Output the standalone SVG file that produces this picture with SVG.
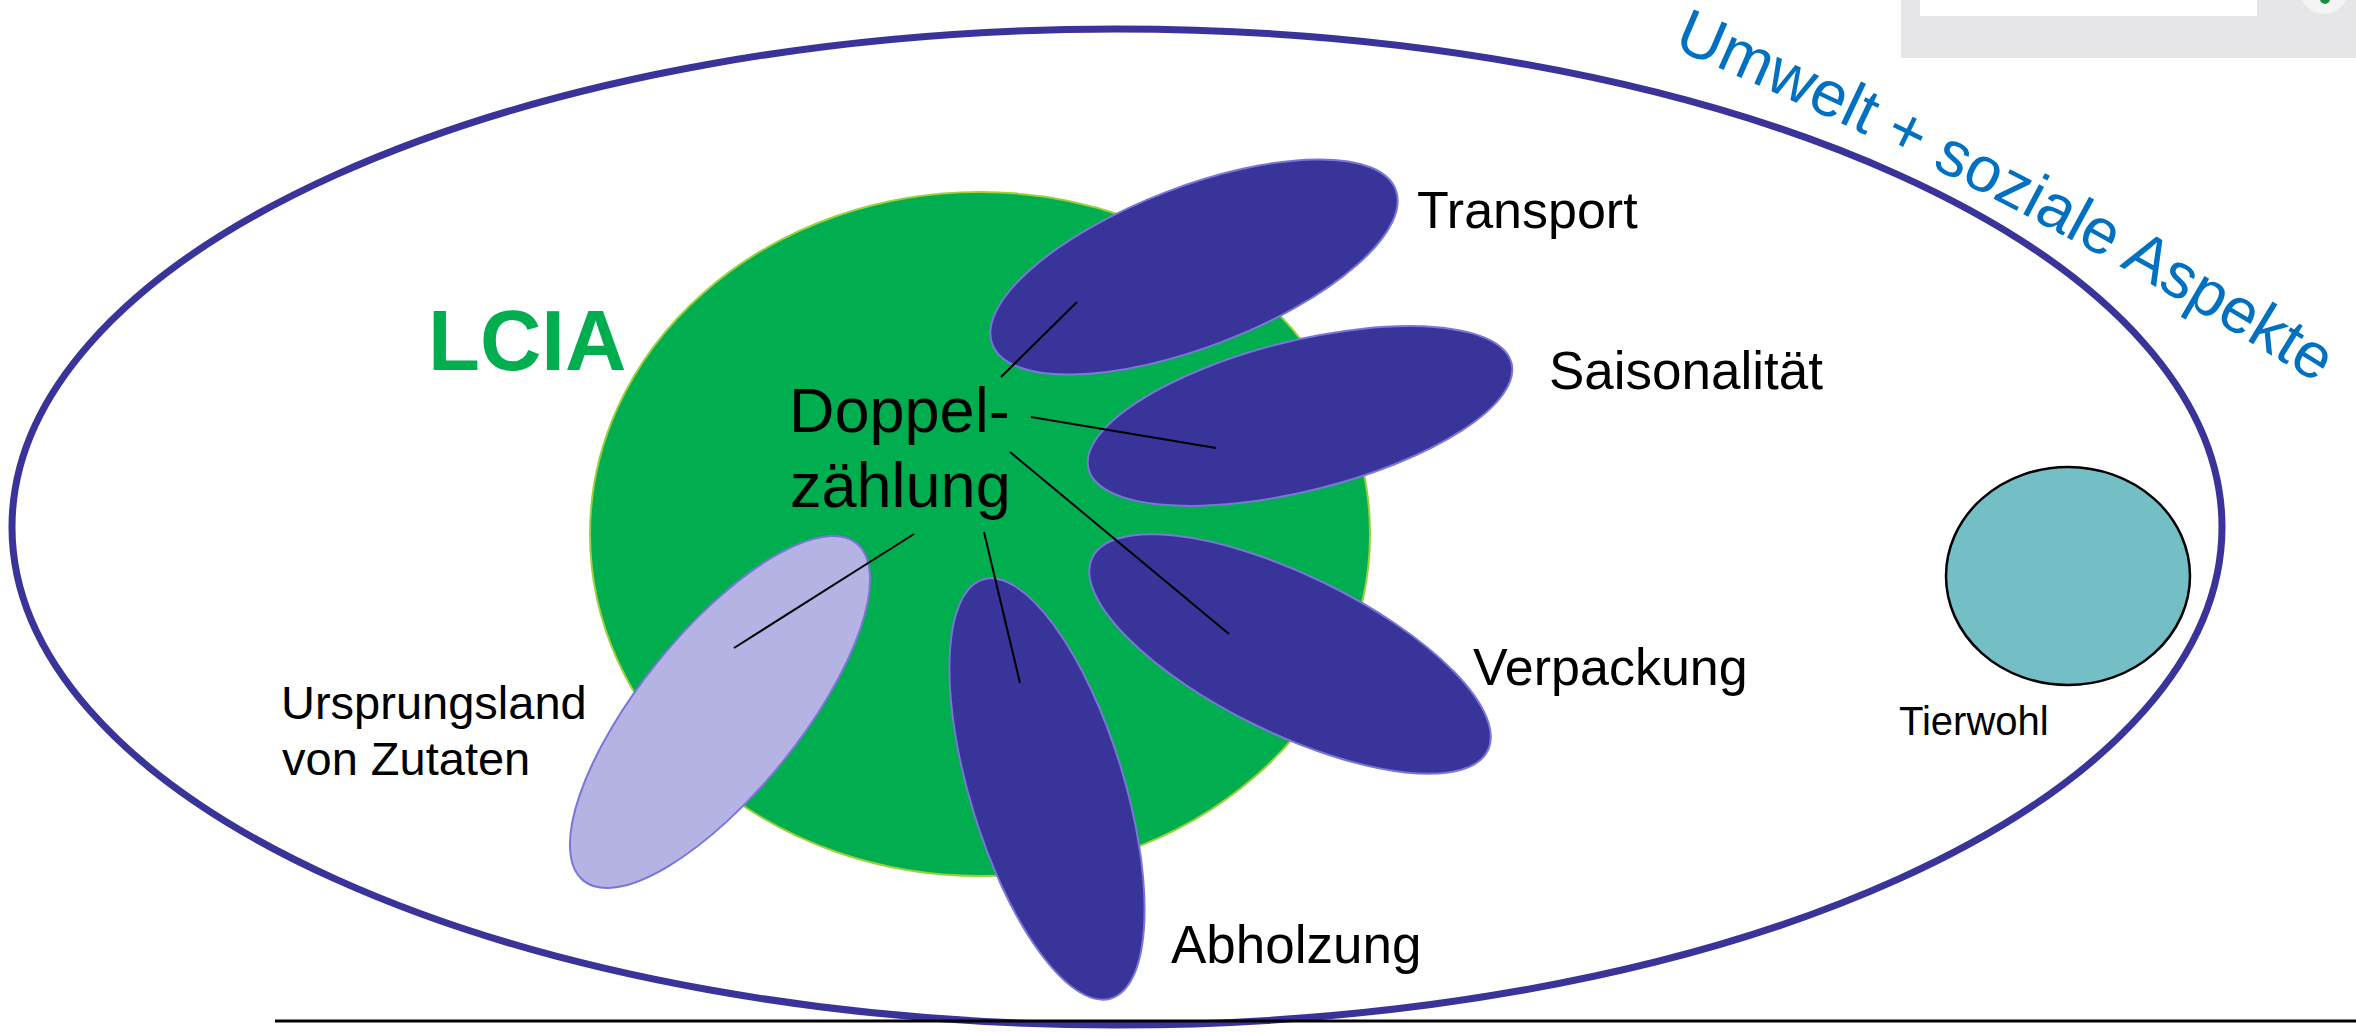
<svg xmlns="http://www.w3.org/2000/svg" width="2356" height="1032" viewBox="0 0 2356 1032">
  <defs>
    <style>
      .lbl { font-family: "Liberation Sans", Arial, sans-serif; fill: #000; }
      .petal { fill: #393499; stroke: #7a76d8; stroke-width: 2; }
      .petal-light { fill: #b5b3e4; stroke: #7a76d8; stroke-width: 2; }
      .conn { stroke: #000; stroke-width: 2; fill: none; }
    </style>
    <path id="arcPath" d="M1672,48 Q2008,190 2308,378"/>
  </defs>
  <rect x="0" y="0" width="2356" height="1032" fill="#ffffff"/>

  <!-- header fragments -->
  <g id="header">
    <rect x="1901" y="-5" width="460" height="63" fill="#e6e6e8"/>
    <rect x="1920" y="-5" width="337" height="21" fill="#ffffff"/>
    <circle cx="2324" cy="-10" r="24" fill="#f4f4f4"/>
    <circle cx="2325" cy="-1" r="5" fill="#1e8c3e"/>
  </g>

  <g id="outer">
    <ellipse cx="1117" cy="527" rx="1105" ry="498" fill="none" stroke="#3a3399" stroke-width="7"/>
  </g>

  <g id="lcia">
    <ellipse cx="980" cy="534" rx="390" ry="342" fill="#00ae4f" stroke="#9ccf3a" stroke-width="2"/>
    <text class="lbl" x="428" y="370" font-size="85" font-weight="bold" style="fill:#00ae4f">LCIA</text>
  </g>

  <g id="transport">
    <ellipse class="petal" cx="1194" cy="267" rx="216" ry="80" transform="rotate(-21 1194 267)"/>
  </g>
  <g id="saisonalitaet">
    <ellipse class="petal" cx="1300" cy="416" rx="218" ry="75" transform="rotate(-14 1300 416)"/>
  </g>
  <g id="verpackung">
    <ellipse class="petal" cx="1290" cy="654" rx="220" ry="79" transform="rotate(26 1290 654)"/>
  </g>
  <g id="abholzung">
    <ellipse class="petal" cx="1047" cy="789" rx="77" ry="219" transform="rotate(-17 1047 789)"/>
  </g>
  <g id="ursprungsland">
    <ellipse class="petal-light" cx="720" cy="712" rx="80" ry="217" transform="rotate(39 720 712)"/>
  </g>

  <g id="tierwohl">
    <ellipse cx="2068" cy="576" rx="122" ry="109" fill="#73bfc5" stroke="#000" stroke-width="2.5"/>
    <text class="lbl" x="1899" y="735" font-size="40">Tierwohl</text>
  </g>

  <g id="connectors">
    <line class="conn" x1="1001" y1="377" x2="1077" y2="302"/>
    <line class="conn" x1="1031" y1="417" x2="1216" y2="448"/>
    <line class="conn" x1="1010" y1="452" x2="1229" y2="634"/>
    <line class="conn" x1="984" y1="532" x2="1020" y2="683"/>
    <line class="conn" x1="914" y1="534" x2="734" y2="648"/>
  </g>

  <g id="doppelzaehlung">
    <text class="lbl" x="789" y="432" font-size="63">Doppel-</text>
    <text class="lbl" x="790" y="507" font-size="63">zählung</text>
  </g>

  <g id="labels">
    <text class="lbl" x="1417" y="228" font-size="52">Transport</text>
    <text class="lbl" x="1549" y="389" font-size="53">Saisonalität</text>
    <text class="lbl" x="1473" y="685" font-size="52">Verpackung</text>
    <text class="lbl" x="1171" y="963" font-size="53">Abholzung</text>
    <text class="lbl" x="281" y="719" font-size="47">Ursprungsland</text>
    <text class="lbl" x="282" y="775" font-size="47">von Zutaten</text>
  </g>

  <g id="umwelt-label">
    <text font-family="Liberation Sans, Arial, sans-serif" font-size="64" fill="#0070c0">
      <textPath href="#arcPath" textLength="728" lengthAdjust="spacing">Umwelt + soziale Aspekte</textPath>
    </text>
  </g>

  <line x1="275" y1="1021" x2="2356" y2="1021" stroke="#000" stroke-width="3"/>
</svg>
